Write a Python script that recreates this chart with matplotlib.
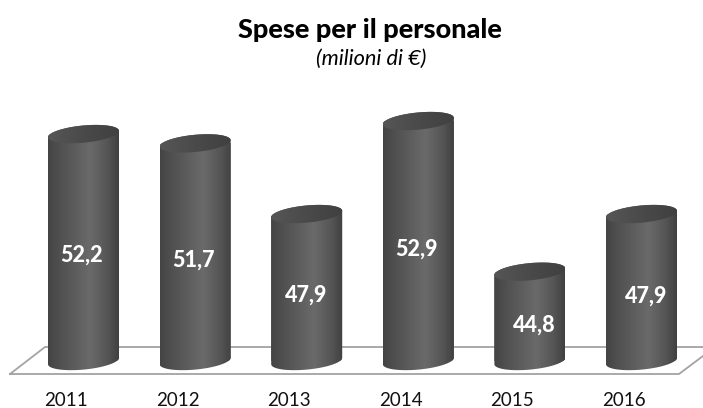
import numpy as np
import matplotlib
matplotlib.use("Agg")
import matplotlib.pyplot as plt
from matplotlib.path import Path
from matplotlib.patches import PathPatch
from matplotlib.colors import LinearSegmentedColormap

years = ["2011", "2012", "2013", "2014", "2015", "2016"]
values = [52.2, 51.7, 47.9, 52.9, 44.8, 47.9]
value_labels = ["52,2", "51,7", "47,9", "52,9", "44,8", "47,9"]
title = "Spese per il personale"
subtitle = "(milioni di €)"

W, H = 703, 408
X0, DX = 83.5, 111.6      # pixel centre of the first bar, spacing
Y0, SY = 361.0, 18.6      # pixel of the baseline, pixels per unit
BASE = 40.0
A, B, K = 35.5, 8.6, 3.2  # cylinder ellipse: half width, half height, shear (px)
label_dx = [-1.5, -2, -1, -2, 4, 4.5]
label_dy = [-8, -8, -8, -8, -9, -9]

plt.rcParams["font.family"] = ["Lato", "DejaVu Sans"]
fig = plt.figure(figsize=(W / 100, H / 100), dpi=100)
ax = fig.add_axes([0, 0, 1, 1])
ax.set_xlim(-X0 / DX, (W - X0) / DX)
ax.set_ylim(BASE - (H - Y0) / SY, BASE + Y0 / SY)
ax.axis("off")

floor_x = np.array([10, 45, 715, 679, 10])
floor_y = np.array([374, 347, 347, 374, 374])
ax.plot((floor_x - X0) / DX, BASE + (Y0 - floor_y) / SY, color="#a3a3a3", lw=1.3, zorder=1)

side = LinearSegmentedColormap.from_list("side", [(0, "#444444"), (0.2, "#525252"), (0.6, "#6a6a6a"), (0.85, "#545454"), (1, "#404040")])
cap = LinearSegmentedColormap.from_list("cap", [(0, "#565656"), (0.5, "#4a4a4a"), (1, "#404040")])
grad = np.linspace(0, 1, 256).reshape(1, -1)

t = np.linspace(0, 2 * np.pi, 120)
a, b, k = A / DX, B / SY, K / SY


def ring(cx, cy):
    return cx + a * np.cos(t), cy + b * np.sin(t) + k * np.cos(t)


xpos = np.arange(len(values))
bars = ax.bar(xpos, np.array(values) - BASE, bottom=BASE, width=2 * a, color="#4a4a4a", zorder=2)

for i, v in enumerate(values):
    s = np.linspace(np.pi, 2 * np.pi, 60)
    xb = i + a * np.cos(s)
    yb = BASE + b * np.sin(s) + k * np.cos(s)
    s2 = np.linspace(0, np.pi, 60)
    xt = i + a * np.cos(s2)
    yt = v + b * np.sin(s2) + k * np.cos(s2)
    body = Path(np.column_stack([np.r_[xb, xt], np.r_[yb, yt]]))
    patch = PathPatch(body, fc="none", ec="none", transform=ax.transData)
    ax.add_patch(patch)
    bars[i].set_clip_path(patch)
    im = ax.imshow(grad, cmap=side, aspect="auto", extent=[i - a, i + a, BASE - b - k, v + b + k],
                   zorder=3, interpolation="bilinear")
    im.set_clip_path(patch)

    cx, cy = ring(i, v)
    cp = PathPatch(Path(np.column_stack([cx, cy])), fc="none", ec="none", transform=ax.transData)
    ax.add_patch(cp)
    im2 = ax.imshow(grad, cmap=cap, aspect="auto", extent=[i - a, i + a, v - b - k, v + b + k],
                    zorder=4, interpolation="bilinear")
    im2.set_clip_path(cp)

    ax.annotate(value_labels[i], (i, (BASE + v) / 2), xytext=(label_dx[i], label_dy[i]),
                textcoords="offset pixels", ha="center", va="center", color="white",
                fontsize=15.5, fontweight=900, zorder=5)
    ax.annotate(years[i], (i, BASE), xytext=(-17.5, -40), textcoords="offset pixels",
                ha="center", va="center", color="#111111", fontsize=13.5, zorder=5)

ax.set_xlim(-X0 / DX, (W - X0) / DX)
ax.set_ylim(BASE - (H - Y0) / SY, BASE + Y0 / SY)

fig.text(370 / W, 1 - 30 / H, title, ha="center", va="center", fontsize=19.5, fontweight=900, color="black")
fig.text(371.5 / W, 1 - 59 / H, subtitle, ha="center", va="center", fontsize=15.7, style="italic", color="black")

fig.savefig("out.png", dpi=100, facecolor="white")
